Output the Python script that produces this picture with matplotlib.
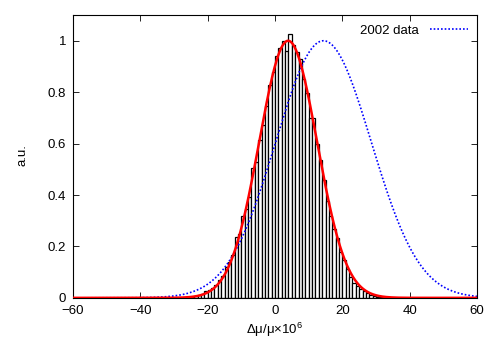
import numpy as np
import matplotlib
matplotlib.use("Agg")
import matplotlib.pyplot as plt

plt.rcParams['font.family'] = ['Liberation Sans', 'DejaVu Sans']
plt.rcParams['mathtext.fontset'] = 'custom'
plt.rcParams['mathtext.rm'] = 'Liberation Sans'
plt.rcParams['mathtext.it'] = 'Liberation Sans'
plt.rcParams['font.size'] = 9.5

# Histogram: left bin edges (width 1) and heights
bin_left = list(range(-26, 32))
bin_height = [
    0.003, 0.004, 0.006, 0.010, 0.016, 0.025, 0.030, 0.040, 0.050, 0.068,   # -26..-17
    0.085, 0.120, 0.140, 0.165, 0.238, 0.250, 0.320, 0.345, 0.393, 0.507,   # -16..-7
    0.530, 0.613, 0.674, 0.745, 0.828, 0.880, 0.940, 0.972, 1.000, 0.960,   # -6..3
    1.025, 0.985, 0.955, 0.930, 0.850, 0.795, 0.700, 0.700, 0.600, 0.535,   # 4..13
    0.460, 0.375, 0.320, 0.267, 0.232, 0.180, 0.147, 0.112, 0.080, 0.057,   # 14..23
    0.048, 0.036, 0.026, 0.018, 0.012, 0.008, 0.005, 0.003,                 # 24..31
]

# Gaussian fit to histogram and 2002 result (mean, sigma, amplitude)
fit_mean, fit_sigma, fit_amp = 3.9, 8.6, 1.0
ref_mean, ref_sigma, ref_amp = 14.4, 14.2, 1.0
legend_label = "2002 data"

xticks = [-60, -40, -20, 0, 20, 40, 60]
yticks = [0, 0.2, 0.4, 0.6, 0.8, 1]
ytick_labels = ["0", "0.2", "0.4", "0.6", "0.8", "1"]

fig = plt.figure(figsize=(5, 3.5), dpi=100)
ax = fig.add_axes([0.146, 0.149, 0.808, 0.808])

ax.bar(bin_left, bin_height, width=1.0, align='edge', facecolor='white',
       edgecolor='black', linewidth=0.9, zorder=2)

xs = np.linspace(-60, 60, 1201)
ax.plot(xs, fit_amp * np.exp(-(xs - fit_mean) ** 2 / (2 * fit_sigma ** 2)),
        color='#ff0000', lw=1.8, zorder=4)
ax.plot(xs, ref_amp * np.exp(-(xs - ref_mean) ** 2 / (2 * ref_sigma ** 2)),
        color='#0000ff', lw=1.2, ls=(0, (1, 1.2)), zorder=3, label=legend_label)

ax.set_xlim(-60, 60)
ax.set_ylim(0, 1.1)
ax.set_xticks(xticks)
ax.set_yticks(yticks)
ax.set_yticklabels(ytick_labels)
ax.tick_params(direction='in', top=True, right=True, length=4, width=0.6, pad=5)
for s in ax.spines.values():
    s.set_linewidth(0.8)

ax.set_xlabel("Δμ/μ×10$^{6}$", labelpad=3)
ax.set_ylabel("a.u.")
ax.yaxis.set_label_coords(-0.11, 0.505)

ax.legend(loc='upper right', frameon=False, markerfirst=False, handlelength=2.9,
          borderaxespad=0.3, handletextpad=0.8)

fig.savefig("out.png", dpi=100)
